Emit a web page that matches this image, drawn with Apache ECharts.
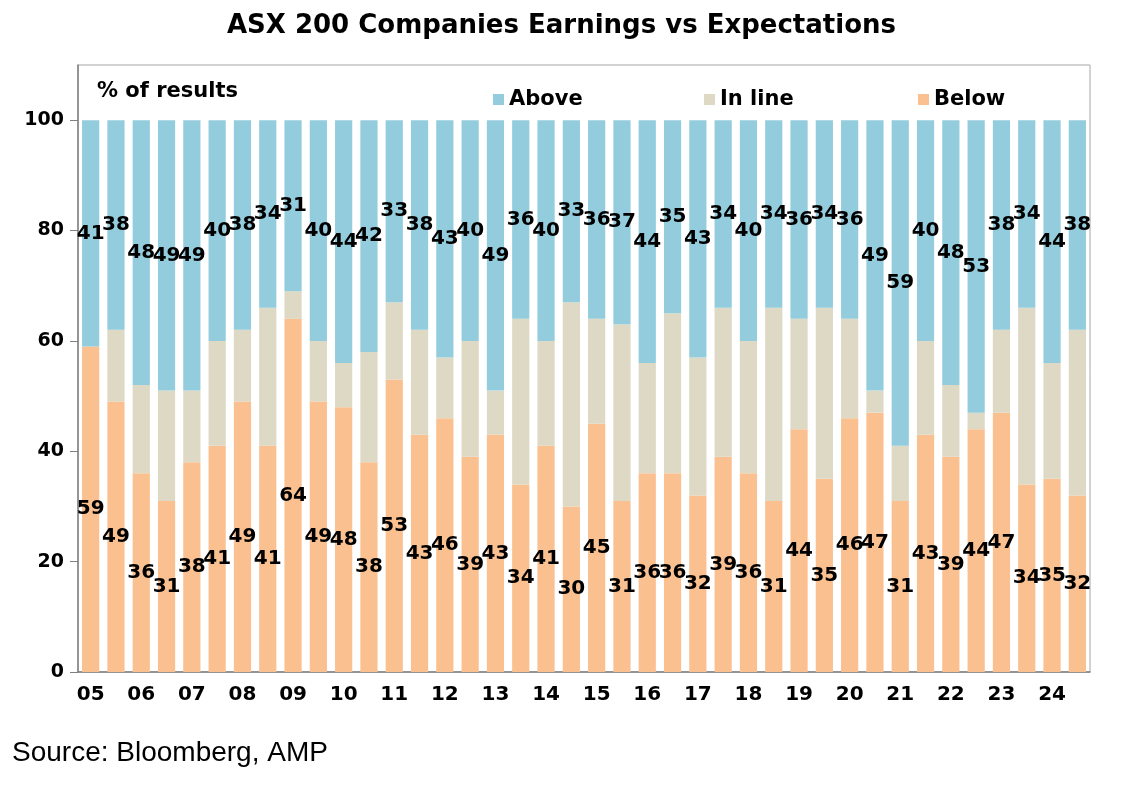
<!DOCTYPE html>
<html>
<head>
<meta charset="utf-8">
<title>ASX 200 Companies Earnings vs Expectations</title>
<script src="https://cdn.jsdelivr.net/npm/echarts@6/dist/echarts.min.js"></script>
<style>
  html, body { margin: 0; padding: 0; background: #fff; }
  #main { width: 1123px; height: 789px; }
</style>
</head>
<body>
<div id="main"></div>
<script>
// reporting seasons, Feb and Aug of each year
var seasons = [
  'Feb-05','Aug-05','Feb-06','Aug-06','Feb-07','Aug-07','Feb-08','Aug-08','Feb-09','Aug-09',
  'Feb-10','Aug-10','Feb-11','Aug-11','Feb-12','Aug-12','Feb-13','Aug-13','Feb-14','Aug-14',
  'Feb-15','Aug-15','Feb-16','Aug-16','Feb-17','Aug-17','Feb-18','Aug-18','Feb-19','Aug-19',
  'Feb-20','Aug-20','Feb-21','Aug-21','Feb-22','Aug-22','Feb-23','Aug-23','Feb-24','Aug-24'
];

// % of results below expectations
var below = [59,49,36,31,38,41,49,41,64,49, 48,38,53,43,46,39,43,34,41,30,
             45,31,36,36,32,39,36,31,44,35, 46,47,31,43,39,44,47,34,35,32];

// % of results in line
var inLine = [0,13,16,20,13,19,13,25,5,11, 8,20,14,19,11,21,8,30,19,37,
              19,32,20,29,25,27,24,35,20,31, 18,4,10,17,13,3,15,32,21,30];

// % of results above expectations
var above = [41,38,48,49,49,40,38,34,31,40, 44,42,33,38,43,40,49,36,40,33,
             36,37,44,35,43,34,40,34,36,34, 36,49,59,40,48,53,38,34,44,38];

var yTicks = [0, 20, 40, 60, 80, 100];

var BOLD = '"DejaVu Sans", Verdana, sans-serif';   // 粗体字偏宽，跟原图接近
var PLAIN = 'Arial, "Liberation Sans", sans-serif';

var chart = echarts.init(document.getElementById('main'));

// 数字标签，黑色粗体放在柱子中间
var barLabel = {
    show: true,
    position: 'inside',
    color: '#000',
    fontFamily: BOLD,
    fontWeight: 'bold',
    fontSize: 20
};

function legendItem(name, left) {
    return {
        data: [name],
        left: left,
        top: 84,
        icon: 'rect',
        itemWidth: 11,
        itemHeight: 11,
        itemGap: 6,
        textStyle: { color: '#000', fontFamily: BOLD, fontWeight: 'bold', fontSize: 21 }
    };
}

var option = {
    backgroundColor: '#fff',
    animation: false,
    title: {
        text: 'ASX 200 Companies Earnings vs Expectations',
        left: 'center',
        top: 8,
        textStyle: { color: '#000', fontFamily: BOLD, fontWeight: 'bold', fontSize: 26 }
    },
    legend: [
        legendItem('Above', 488),
        legendItem('In line', 699),
        legendItem('Below', 913)
    ],
    graphic: [
        {
            type: 'text', left: 97, top: 81,
            style: { text: '% of results', fill: '#000', font: 'bold 21px ' + BOLD }
        },
        {
            type: 'text', left: 12, top: 739,
            style: { text: 'Source: Bloomberg, AMP', fill: '#000', font: '28px ' + PLAIN }
        }
    ],
    grid: {
        left: 78,
        right: 33,
        top: 65,
        bottom: 117,
        show: true,
        borderColor: '#a6a6a6',
        borderWidth: 1
    },
    xAxis: {
        type: 'category',
        data: seasons,
        axisLine: { show: true, lineStyle: { color: '#808080', width: 1.5 } },
        axisTick: { show: false },
        axisLabel: {
            interval: 1,
            margin: 13,
            color: '#000',
            fontFamily: BOLD,
            fontWeight: 'bold',
            fontSize: 20,
            formatter: function (v) { return v.slice(-2); }
        }
    },
    yAxis: {
        type: 'value',
        min: yTicks[0],
        max: 110,
        interval: yTicks[1] - yTicks[0],
        splitLine: { show: false },
        axisLine: { show: true, lineStyle: { color: '#808080', width: 1.5 } },
        axisTick: { show: true, length: 8, inside: false, lineStyle: { color: '#808080' } },
        axisLabel: {
            margin: 14,
            color: '#000',
            fontFamily: BOLD,
            fontWeight: 'bold',
            fontSize: 19,
            showMaxLabel: false,
            formatter: function (v) { return yTicks.indexOf(v) >= 0 ? String(v) : ''; }
        }
    },
    series: [
        {
            name: 'Below',
            type: 'bar',
            stack: 'total',
            barCategoryGap: '32%',
            itemStyle: { color: '#fac090' },
            label: barLabel,
            data: below
        },
        {
            name: 'In line',
            type: 'bar',
            stack: 'total',
            barCategoryGap: '32%',
            itemStyle: { color: '#ddd9c4' },
            data: inLine
        },
        {
            name: 'Above',
            type: 'bar',
            stack: 'total',
            barCategoryGap: '32%',
            itemStyle: { color: '#93cddd' },
            label: barLabel,
            data: above
        }
    ]
};

chart.setOption(option);
</script>
</body>
</html>
